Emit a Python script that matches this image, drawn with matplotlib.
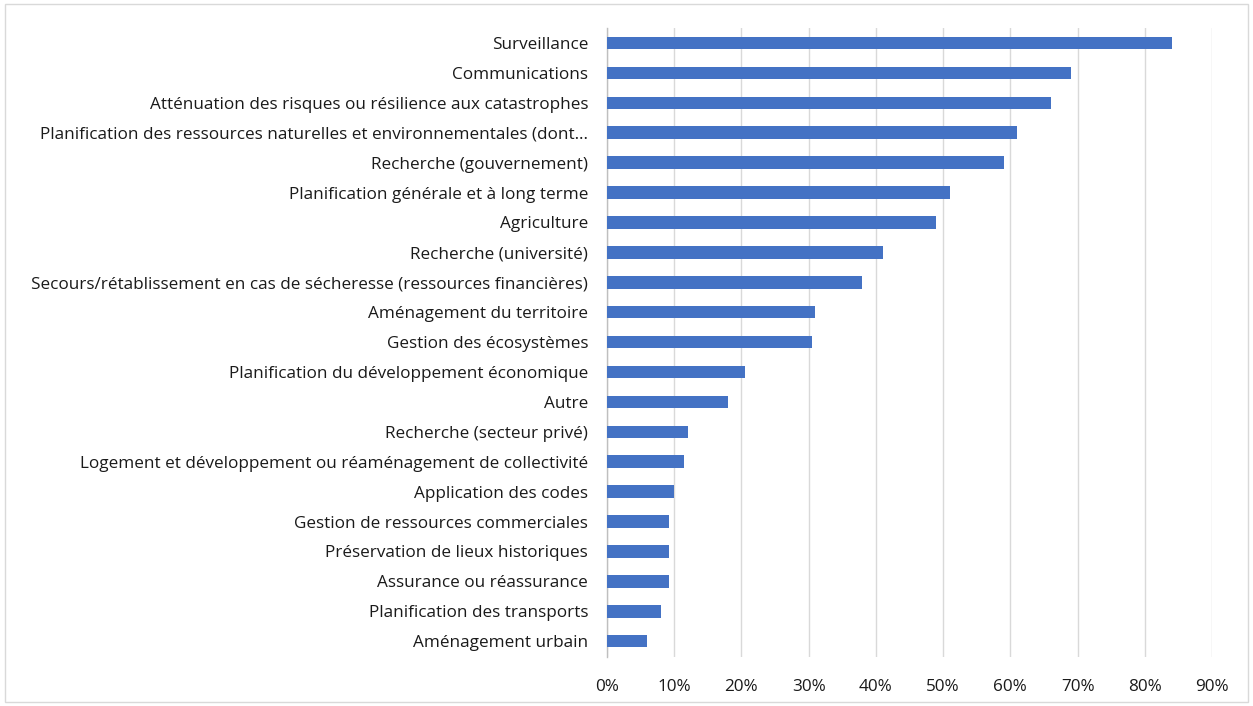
import matplotlib
matplotlib.use("Agg")
import matplotlib.pyplot as plt
from matplotlib.patches import Rectangle
from matplotlib.ticker import FuncFormatter, MultipleLocator

# usages déclarés, du plus fréquent au moins fréquent
categories = [
    "Surveillance",
    "Communications",
    "Atténuation des risques ou résilience aux catastrophes",
    "Planification des ressources naturelles et environnementales (dont…",
    "Recherche (gouvernement)",
    "Planification générale et à long terme",
    "Agriculture",
    "Recherche (université)",
    "Secours/rétablissement en cas de sécheresse (ressources financières)",
    "Aménagement du territoire",
    "Gestion des écosystèmes",
    "Planification du développement économique",
    "Autre",
    "Recherche (secteur privé)",
    "Logement et développement ou réaménagement de collectivité",
    "Application des codes",
    "Gestion de ressources commerciales",
    "Préservation de lieux historiques",
    "Assurance ou réassurance",
    "Planification des transports",
    "Aménagement urbain",
]
shares = [0.84, 0.69, 0.66, 0.61, 0.59, 0.51, 0.49, 0.41, 0.38, 0.31, 0.305,
          0.205, 0.18, 0.12, 0.114, 0.10, 0.093, 0.092, 0.092, 0.08, 0.06]

plt.rcParams["font.family"] = ["Open Sans", "DejaVu Sans"]

fig = plt.figure(figsize=(12.53, 7.06), dpi=100)
fig.patches.append(Rectangle((0.004, 0.006), 0.992, 0.988, transform=fig.transFigure,
                             fill=False, edgecolor="#d9d9d9", linewidth=1.0))

ax = fig.add_axes([0.4844, 0.0694, 0.4829, 0.8909])
y = list(range(len(categories)))
ax.barh(y, shares, height=0.42, color="#4472C4", zorder=3)

ax.set_ylim(len(categories) - 0.47, -0.5)
ax.set_xlim(0, 0.9)
ax.xaxis.set_major_locator(MultipleLocator(0.1))
ax.xaxis.set_major_formatter(FuncFormatter(lambda v, _: f"{v * 100:.0f}%"))
ax.set_yticks(y)
ax.set_yticklabels(categories)

ax.grid(axis="x", color="#d9d9d9", linewidth=1.0, zorder=0)
for side in ("top", "right", "bottom"):
    ax.spines[side].set_visible(False)
ax.spines["left"].set_color("#bfbfbf")
ax.spines["left"].set_linewidth(1.0)
ax.tick_params(axis="both", length=0, labelsize=12.3, colors="#1a1a1a")
ax.tick_params(axis="y", pad=13.5)
ax.tick_params(axis="x", pad=16)

fig.savefig("out.png", dpi=100, facecolor="white")
